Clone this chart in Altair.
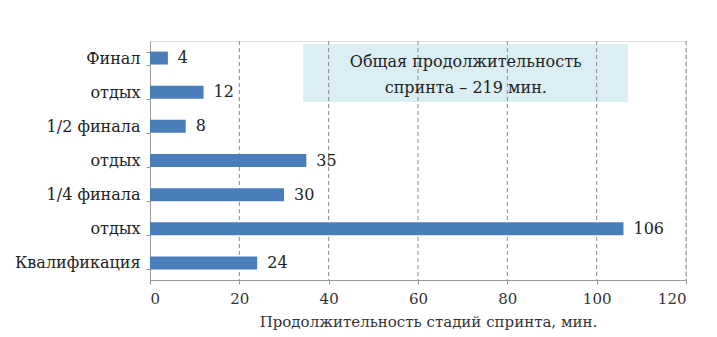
import altair as alt
import pandas as pd

stages = ["Финал", "отдых", "1/2 финала", "отдых ", "1/4 финала", "отдых  ", "Квалификация"]
durations = [4, 12, 8, 35, 30, 106, 24]
x_ticks = [0, 20, 40, 60, 80, 100, 120]
grid_values = [20, 40, 60, 80, 100, 120]
note_lines = ["Общая продолжительность", "спринта – 219 мин."]
note_x_start, note_x_end, note_x_mid = 34.3, 107, 70.7
x_title = "Продолжительность стадий спринта, мин."

FONT = "DejaVu Serif"
BLUE = "#4a7ebb"

df = pd.DataFrame({"stage": stages, "dur": durations})
grid_df = pd.DataFrame({"g": grid_values})
note_df = pd.DataFrame({"x1": [note_x_start], "x2": [note_x_end]})
note_text_df = pd.DataFrame({"xm": [note_x_mid, note_x_mid], "line": note_lines, "py": [21, 47]})

xscale = alt.Scale(domain=[0, 120], nice=False)
yscale = alt.Scale(domain=stages, paddingInner=0.62, paddingOuter=0.31)

rect = alt.Chart(note_df).mark_rect(color="#daeef3").encode(
    x=alt.X("x1:Q", scale=xscale, title=x_title,
            axis=alt.Axis(values=x_ticks, grid=False, labelFont=FONT, labelFontSize=15,
                          labelColor="#333", titleFont=FONT, titleFontSize=15, titleFontWeight="normal",
                          titleColor="#333", domainColor="#999", tickColor="#999", tickSize=4,
                          labelPadding=7, titlePadding=8, titleX=278)),
    x2="x2:Q",
    y=alt.value(3),
    y2=alt.value(61),
)

grid = alt.Chart(grid_df).mark_rule(color="#888", strokeDash=[4, 3], strokeWidth=1).encode(
    x=alt.X("g:Q", scale=xscale),
    y=alt.value(0),
    y2=alt.value(239),
)

bars = alt.Chart(df).mark_bar(color=BLUE).encode(
    x=alt.X("dur:Q", scale=xscale),
    y=alt.Y("stage:N", scale=yscale, sort=stages, title=None,
            axis=alt.Axis(labelFont=FONT, labelFontSize=16, labelColor="#222",
                          domainColor="#999", tickColor="#999", tickSize=4,
                          tickBand="extent", labelPadding=6, grid=False)),
)

labels = alt.Chart(df).mark_text(align="left", dx=10, font=FONT, fontSize=16, color="#222").encode(
    x=alt.X("dur:Q", scale=xscale),
    y=alt.Y("stage:N", scale=yscale, sort=stages),
    text="dur:Q",
)

note_text = alt.Chart(note_text_df).mark_text(font=FONT, fontSize=16, color="#222").encode(
    x=alt.X("xm:Q", scale=xscale),
    y=alt.Y("py:Q", scale=None),
    text="line:N",
)

chart = alt.layer(rect, grid, bars, labels, note_text).properties(
    width=536, height=239,
    autosize=alt.AutoSizeParams(type="none"),
    padding={"left": 142, "top": 33, "right": 10, "bottom": 50},
).configure_view(stroke=None).configure(background="white")

chart.save("out.html", embed_options={"renderer": "svg", "actions": False})
